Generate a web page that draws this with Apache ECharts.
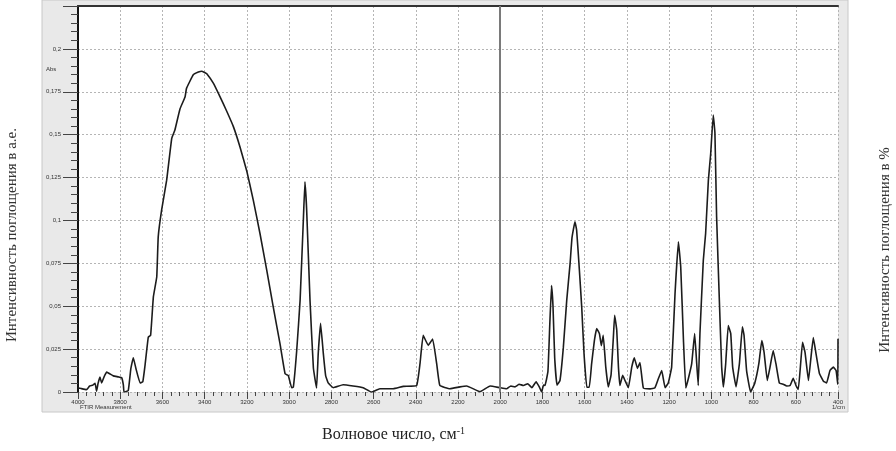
<!DOCTYPE html>
<html>
<head>
<meta charset="utf-8">
<script src="https://cdn.jsdelivr.net/npm/echarts@6/dist/echarts.min.js"></script>
<style>
  html, body { margin: 0; padding: 0; background: #fff; }
  #chart { width: 896px; height: 451px; }
</style>
</head>
<body>
<div id="chart"></div>
<script>
// волновое число, 1/cm
var waveNumbers = [
  4000, 3985, 3960, 3945, 3930, 3919, 3912, 3905, 3896, 3888, 3876, 3864, 3848, 3833, 3809, 3793, 3785, 3782,
  3762, 3750, 3738, 3725, 3706, 3693, 3683, 3667, 3656, 3643, 3627, 3620, 3604, 3580, 3556, 3541, 3517, 3493,
  3486, 3454, 3430, 3414, 3400, 3390, 3359, 3327, 3296, 3264, 3233, 3201, 3170, 3138, 3106, 3075, 3043, 3019,
  3004, 2988, 2980, 2964, 2948, 2932, 2925, 2917, 2901, 2885, 2870, 2862, 2851, 2838, 2827, 2815, 2791, 2744,
  2697, 2649, 2610, 2570, 2507, 2459, 2396, 2380, 2365, 2341, 2320, 2301, 2286, 2238, 2191, 2159, 2096, 2048,
  2001, 1970, 1950, 1930, 1910, 1890, 1870, 1850, 1830, 1815, 1804, 1795, 1788, 1774, 1765, 1757, 1750, 1742,
  1731, 1717, 1701, 1685, 1669, 1660, 1646, 1638, 1625, 1614, 1603, 1590, 1578, 1567, 1554, 1543, 1530, 1521,
  1512, 1500, 1488, 1475, 1464, 1458, 1448, 1440, 1433, 1420, 1409, 1393, 1377, 1365, 1350, 1338, 1322, 1290,
  1267, 1251, 1235, 1219, 1204, 1188, 1172, 1156, 1145, 1132, 1121, 1109, 1093, 1079, 1070, 1062, 1054, 1038,
  1027, 1014, 1003, 991, 983, 975, 962, 951, 943, 932, 920, 908, 899, 883, 867, 853, 845, 833,
  814, 794, 775, 761, 750, 735, 722, 707, 694, 678, 659, 643, 627, 612, 599, 588, 577, 568,
  556, 540, 529, 517, 505, 488, 469, 454, 438, 422, 409, 401, 400
];
// поглощение, Abs
var absorbance = [
  0.0025, 0.002, 0.0013, 0.0035, 0.004, 0.0051, 0.0005, 0.005, 0.0087, 0.0053, 0.009, 0.0116, 0.0105, 0.0094, 0.0088, 0.0083, 0.004, 0.0,
  0.0008, 0.0134, 0.020, 0.0134, 0.0053, 0.006, 0.015, 0.032, 0.033, 0.0554, 0.067, 0.0904, 0.106, 0.1235, 0.1479, 0.1527, 0.165, 0.172,
  0.177, 0.1849, 0.1865, 0.187, 0.1862, 0.1855, 0.180, 0.172, 0.1638, 0.1547, 0.143, 0.129, 0.112, 0.0924, 0.071, 0.0495, 0.028, 0.0106,
  0.0097, 0.0025, 0.0028, 0.0242, 0.0534, 0.102, 0.1225, 0.1065, 0.0534, 0.014, 0.0023, 0.0225, 0.040, 0.0225, 0.0096, 0.0053, 0.0025, 0.0042,
  0.0035, 0.0025, 0.0, 0.0019, 0.0019, 0.0033, 0.0038, 0.0165, 0.033, 0.0272, 0.0309, 0.0165, 0.0038, 0.0019, 0.003, 0.0035, 0.0002, 0.0035,
  0.0025, 0.0019, 0.0035, 0.003, 0.0045, 0.0038, 0.0048, 0.0025, 0.006, 0.003, 0.0, 0.004, 0.0038, 0.012, 0.040, 0.062, 0.050, 0.020,
  0.004, 0.0067, 0.026, 0.0534, 0.075, 0.090, 0.0992, 0.0943, 0.071, 0.0495, 0.0223, 0.0028, 0.0028, 0.0165, 0.030, 0.037, 0.034, 0.027,
  0.033, 0.0145, 0.003, 0.010, 0.032, 0.0447, 0.036, 0.0145, 0.0038, 0.0097, 0.0067, 0.0025, 0.0145, 0.020, 0.0138, 0.0172, 0.0023, 0.0018,
  0.0025, 0.0077, 0.0125, 0.0025, 0.0053, 0.0145, 0.0573, 0.0875, 0.073, 0.030, 0.0023, 0.0077, 0.0165, 0.034, 0.018, 0.0038, 0.034, 0.0768,
  0.0925, 0.1235, 0.139, 0.1615, 0.151, 0.102, 0.0534, 0.0145, 0.0029, 0.0165, 0.0388, 0.034, 0.0145, 0.003, 0.0165, 0.038, 0.033, 0.0125,
  0.0, 0.0053, 0.0165, 0.030, 0.023, 0.0067, 0.0145, 0.0242, 0.0165, 0.0053, 0.0045, 0.0035, 0.0038, 0.008, 0.0038, 0.0015, 0.0165, 0.029,
  0.023, 0.0067, 0.019, 0.0317, 0.023, 0.0108, 0.0063, 0.0053, 0.0125, 0.0145, 0.0125, 0.0045, 0.031
];
var markerWave = 2000;

var chart = echarts.init(document.getElementById("chart"));

var serif = "'Liberation Serif', 'DejaVu Serif', serif";
var small = "'Liberation Sans', Arial, sans-serif";

function fmtComma(v) {
  var r = Math.round(v * 1000) / 1000;
  if (r > 0.2) return "";
  return String(r).replace(".", ",");
}

chart.setOption({
  animation: false,
  backgroundColor: "#fff",
  grid: {
    left: 78,
    right: 58,
    top: 6,
    bottom: 59,
    show: true,
    backgroundColor: "#fff",
    borderWidth: 0
  },
  graphic: [
    {
      type: "rect",
      z: -10,
      shape: { x: 42, y: 0, width: 806, height: 412 },
      style: { fill: "#e9e9e9", stroke: "#c8c8c8", lineWidth: 1 }
    },
    {
      type: "text",
      left: 46, top: 66,
      style: { text: "Abs", fontSize: 6, fontFamily: small, fill: "#333" }
    },
    {
      type: "text",
      left: 80, top: 404,
      style: { text: "FTIR Measurement", fontSize: 6, fontFamily: small, fill: "#333" }
    },
    {
      type: "text",
      left: 832, top: 404,
      style: { text: "1/cm", fontSize: 6, fontFamily: small, fill: "#333" }
    },
    {
      type: "text",
      x: 322, y: 426,
      style: {
        text: "Волновое число, см{s|-1}",
        fontSize: 16,
        fontFamily: serif,
        fill: "#222",
        rich: { s: { fontSize: 10, fontFamily: serif, fill: "#222", verticalAlign: "top", padding: [0, 0, 8, 0] } }
      }
    },
    {
      type: "text",
      x: 12, y: 235,
      rotation: Math.PI / 2,
      style: {
        text: "Интенсивность поглощения в а.е.",
        fontSize: 15, fontFamily: serif, fill: "#333",
        align: "center", verticalAlign: "middle"
      }
    },
    {
      type: "text",
      x: 885, y: 250,
      rotation: Math.PI / 2,
      style: {
        text: "Интенсивность поглощения в %",
        fontSize: 15, fontFamily: serif, fill: "#333",
        align: "center", verticalAlign: "middle"
      }
    }
  ],
  xAxis: [
    {
      type: "value",
      inverse: true,
      min: 400,
      max: 4000,
      interval: 200,
      axisLine: { show: false },
      axisTick: { show: true, length: 7, lineStyle: { color: "#444", width: 1 } },
      minorTick: { show: true, splitNumber: 5, length: 4, lineStyle: { color: "#444" } },
      axisLabel: {
        fontSize: 6, color: "#333", fontFamily: small, margin: 7,
        formatter: function (v) { return String(v); }
      },
      splitLine: { show: true, lineStyle: { color: "#b5b5b5", type: [2, 2], width: 1 } }
    },
    {
      type: "value",
      position: "top",
      inverse: true,
      min: 400,
      max: 4000,
      axisLine: { show: true, lineStyle: { color: "#333", width: 2 } },
      axisTick: { show: false },
      axisLabel: { show: false },
      splitLine: { show: false }
    }
  ],
  yAxis: {
    type: "value",
    min: 0,
    max: 0.225,
    interval: 0.025,
    axisLine: { show: true, lineStyle: { color: "#111", width: 2 } },
    axisTick: { show: true, length: 15, lineStyle: { color: "#444", width: 1 } },
    minorTick: { show: true, splitNumber: 5, length: 7, lineStyle: { color: "#444" } },
    axisLabel: { fontSize: 6, color: "#333", fontFamily: small, margin: 17, formatter: fmtComma },
    splitLine: { show: true, lineStyle: { color: "#b5b5b5", type: [2, 2], width: 1 } }
  },
  series: [
    {
      type: "line",
      xAxisIndex: 0,
      data: waveNumbers.map(function (w, i) { return [w, absorbance[i]]; }),
      showSymbol: false,
      smooth: 0.1,
      lineStyle: { color: "#1c1c1c", width: 1.6 },
      markLine: {
        silent: true,
        symbol: ["none", "none"],
        label: { show: false },
        lineStyle: { color: "#7a7a7a", width: 2, type: "solid" },
        data: [{ xAxis: markerWave }]
      }
    }
  ]
});
</script>
</body>
</html>
